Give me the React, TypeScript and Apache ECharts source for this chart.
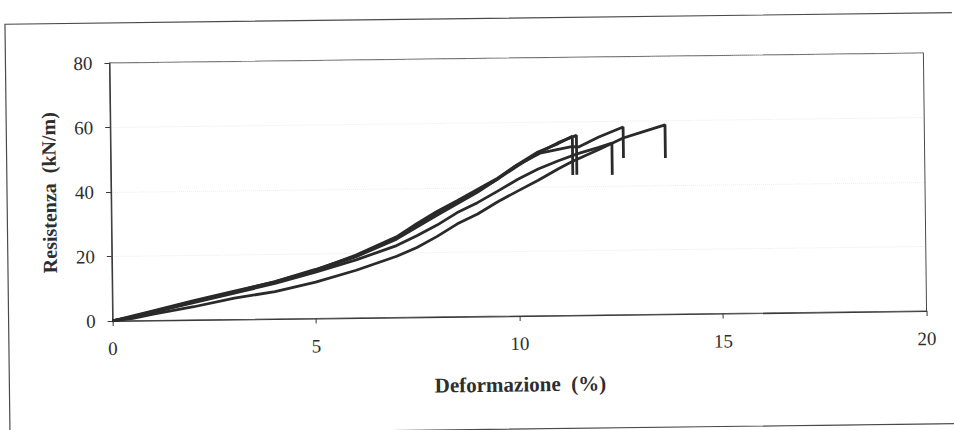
import React, { useEffect, useRef } from "react";
import * as echarts from "echarts";

const xTicks = [0, 5, 10, 15, 20];
const yTicks = [0, 20, 40, 60, 80];
const xTitle = "Deformazione\u00a0\u00a0(%)";
const yTitle = "Resistenza\u00a0\u00a0(kN/m)";

// Specimen 1 (upper band, breaks at ~11.35 %)
const strain1 = [0, 0.5, 1, 2, 3, 4, 5, 6, 7, 7.5, 8, 8.5, 9, 9.5, 10, 10.5, 11, 11.35, 11.35];
const load1 = [0, 1.5, 3.0, 6.0, 8.8, 11.5, 15.0, 19.5, 25, 29, 32.7, 36, 39.4, 42.8, 47, 50.8, 53.3, 55.5, 43.5];

// Specimen 2 (upper band, breaks at ~11.45 %)
const strain2 = [0, 0.5, 1, 2, 3, 4, 5, 6, 7, 7.5, 8, 8.5, 9, 9.5, 10, 10.5, 11, 11.45, 11.45];
const load2 = [0, 1.3, 2.8, 5.8, 8.6, 11.6, 15.2, 19.2, 24.6, 28.4, 32.2, 35.6, 39, 42.5, 46.6, 50.4, 53.6, 55.8, 43.6];

// Specimen 3 (upper band, lower line, breaks at ~12.6 %)
const strain3 = [0, 0.5, 1, 2, 3, 4, 5, 6, 7, 8, 8.5, 9, 9.5, 9.9, 10.55, 11.33, 11.5, 12, 12.6, 12.6];
const load3 = [0, 1.2, 2.6, 5.6, 8.5, 11.3, 14.8, 19, 24.3, 31.5, 35, 38.5, 42.5, 46.2, 50.4, 52.3, 52.2, 55.2, 58.2, 48.6];

// Specimen 4 (middle line, breaks at ~12.3 %)
const strain4 = [0, 0.5, 1, 2, 3, 4, 5, 6, 7, 7.5, 8, 8.5, 9, 9.5, 10, 10.5, 11, 11.5, 12, 12.32, 12.32];
const load4 = [0, 1.2, 2.6, 5.4, 8.2, 11, 14.4, 18, 22.3, 25.3, 28.5, 32.3, 35.3, 38.8, 42.4, 45.5, 48, 50.2, 52, 53.3, 43.4];

// Specimen 5 (lower line, breaks at ~13.6 %)
const strain5 = [0, 0.5, 1, 2, 3, 4, 5, 6, 7, 7.5, 8, 8.5, 9, 9.5, 10, 10.5, 11, 11.34, 12, 12.6, 13, 13.63, 13.63];
const load5 = [0, 0.7, 2.0, 4.1, 6.6, 8.5, 11.3, 14.8, 19, 21.6, 25, 28.8, 31.8, 35.5, 38.8, 42, 45.5, 47.7, 51.3, 54.8, 56.3, 58.7, 48.4];

const specimens = [
  [strain1, load1],
  [strain2, load2],
  [strain3, load3],
  [strain4, load4],
  [strain5, load5],
];

const FONT = '"Liberation Serif", "Times New Roman", serif';
const INK = "#2e2e2e";

export default function App() {
  const ref = useRef<HTMLDivElement>(null);

  useEffect(() => {
    if (!ref.current) return;
    const chart = echarts.init(ref.current, undefined, { renderer: "svg" });
    chart.setOption({
      animation: false,
      backgroundColor: "transparent",
      grid: {
        left: 111,
        top: 58,
        width: 814,
        height: 258,
        show: true,
        borderColor: "#4a4a4a",
        borderWidth: 1,
        backgroundColor: "transparent",
      },
      graphic: [
        {
          type: "rect",
          silent: true,
          z: -1,
          shape: { x: 7, y: 18, width: 980, height: 411 },
          style: { fill: "none", stroke: "#4a4a4a", lineWidth: 1.2 },
        },
      ],
      xAxis: {
        type: "value",
        min: xTicks[0],
        max: xTicks[xTicks.length - 1],
        interval: xTicks[1] - xTicks[0],
        name: xTitle,
        nameLocation: "middle",
        nameGap: 58,
        nameTextStyle: { fontFamily: FONT, fontWeight: "bold", fontSize: 21, color: INK },
        axisLine: { show: true, lineStyle: { color: "#3a3a3a", width: 1.2 } },
        axisTick: { show: true, length: 5, lineStyle: { color: "#3a3a3a" } },
        axisLabel: { margin: 18, fontFamily: FONT, fontSize: 19, color: INK },
        splitLine: { show: false },
      },
      yAxis: {
        type: "value",
        min: yTicks[0],
        max: yTicks[yTicks.length - 1],
        interval: yTicks[1] - yTicks[0],
        name: yTitle,
        nameLocation: "middle",
        nameGap: 52,
        nameTextStyle: { fontFamily: FONT, fontWeight: "bold", fontSize: 20, color: INK },
        axisLine: { show: true, lineStyle: { color: "#3a3a3a", width: 1.2 } },
        axisTick: { show: true, length: 5, lineStyle: { color: "#3a3a3a" } },
        axisLabel: { margin: 17, fontFamily: FONT, fontSize: 19, color: INK },
        splitLine: { show: true, lineStyle: { color: "#ececec", type: "dotted", width: 1 } },
      },
      series: specimens.map(([xs, ys], i) => ({
        type: "line",
        name: "Provino " + (i + 1),
        data: xs.map((x, j) => [x, ys[j]]),
        showSymbol: false,
        symbol: "none",
        lineStyle: { color: "#2a2a2a", width: 2.8 },
        z: 3,
      })),
    });
    return () => chart.dispose();
  }, []);

  return (
    <div
      ref={ref}
      style={{
        position: "absolute",
        left: 0,
        top: 0,
        width: 954,
        height: 430,
        transform: "rotate(-0.7deg)",
        transformOrigin: "518px 187px",
      }}
    />
  );
}
